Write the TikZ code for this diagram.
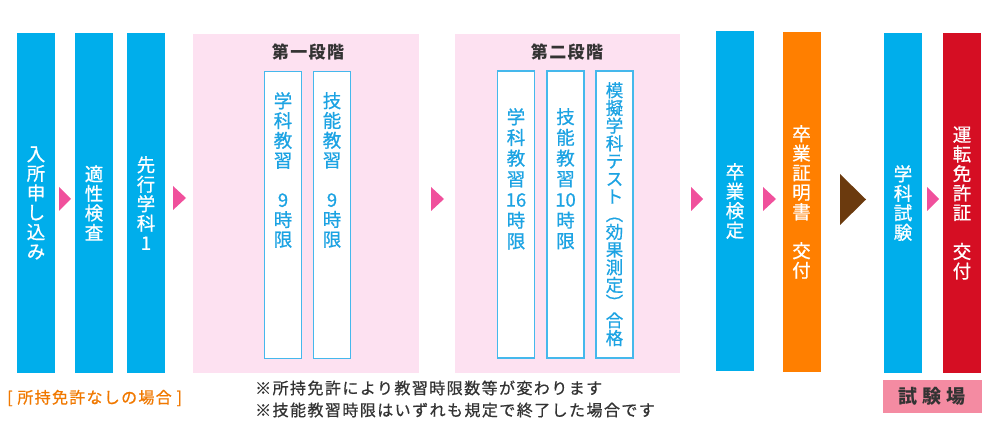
\documentclass[tikz,border=0pt]{standalone}
\usepackage{fontspec}
\usepackage{graphicx}
\newfontfamily\cjk{Noto Sans CJK JP}
\newfontfamily\cjkm[FakeBold=0.7]{Noto Sans CJK JP}
\newcommand\vparen[1]{\rotatebox[origin=c]{-90}{#1}}
\usetikzlibrary{calc}
\definecolor{cyanB}{HTML}{00AEEB}
\definecolor{pinkbg}{HTML}{FDE1F1}
\definecolor{innerline}{HTML}{45B8EC}
\definecolor{innertext}{HTML}{1CA3E3}
\definecolor{arrowpink}{HTML}{F0509C}
\definecolor{brownA}{HTML}{6B3A0E}
\definecolor{orangeB}{HTML}{FF7F00}
\definecolor{redB}{HTML}{D50E23}
\definecolor{labelpink}{HTML}{F48BA2}
\definecolor{notegray}{HTML}{333333}
\definecolor{orangeText}{HTML}{F07800}
\begin{document}
\begin{tikzpicture}[x=1pt,y=-1pt,
  stage/.style={fill=cyanB, draw=none, minimum width=38pt, minimum height=340pt,
    inner sep=0pt, text=white, align=center, font=\cjkm\fontsize{18.5}{19.5}\selectfont},
  panel/.style={fill=pinkbg, draw=none, inner sep=0pt},
  innerbox/.style={fill=white, draw=innerline, line width=1.3pt, minimum width=37pt,
    minimum height=287pt, inner sep=0pt},
  innertxt/.style={text=innertext, align=center, inner sep=0pt, anchor=north,
    font=\cjkm\fontsize{18.5}{19.8}\selectfont},
  title/.style={text=notegray, inner sep=0pt, font=\cjk\bfseries\fontsize{17}{20}\selectfont\addfontfeatures{LetterSpace=8}},
  parrow/.style={fill=arrowpink},
  barrow/.style={fill=brownA}
]
\useasboundingbox (0,0) rectangle (1000,427);

% outer stages
\node[stage] (b1) at (36,203) {入\\所\\申\\し\\込\\み};
\node[stage] (b2) at (94,203) {適\\性\\検\\査};
\node[stage] (b3) at (146,203) {先\\行\\学\\科\\1};

% panel 1
\node[panel, minimum width=226pt, minimum height=339pt] (p1) at (306,203.5) {};
\node[title] (t1) at (308,52) {第一段階};
\node[innerbox] (ib1) at (283,215) {};
\node[innerbox] (ib2) at (332,215) {};
\node[innertxt] (it1) at (283,92) {学\\科\\教\\習\\[19.8pt]9\\時\\限};
\node[innertxt] (it2) at (332,92) {技\\能\\教\\習\\[19.8pt]9\\時\\限};

% panel 2
\node[panel, minimum width=225pt, minimum height=339pt] (p2) at (567.5,203.5) {};
\node[title] (t2) at (567,52) {第二段階};
\node[innerbox] (ib3) at (516,214.5) {};
\node[innerbox] (ib4) at (565.5,214.5) {};
\node[innerbox] (ib5) at (614.5,214.5) {};
\node[innertxt, font=\cjkm\fontsize{18.5}{20.7}\selectfont] (it3) at (516,108) {学\\科\\教\\習\\16\\時\\限};
\node[innertxt, font=\cjkm\fontsize{18.5}{20.7}\selectfont] (it4) at (565.5,108) {技\\能\\教\\習\\10\\時\\限};
\node[innertxt, font=\cjkm\fontsize{17.5}{17.7}\selectfont] (it5) at (614.5,82) {模\\擬\\学\\科\\テ\\ス\\ト\\\vparen{（}\\効\\果\\測\\定\\\vparen{）}\\合\\格};

% later stages
\node[stage, minimum height=340pt] (b4) at (735,201) {卒\\業\\検\\定};
\node[stage, fill=orangeB] (b5) at (801.5,202) {卒\\業\\証\\明\\書\\[19.5pt]交\\付};
\node[stage] (b6) at (903,203) {学\\科\\試\\験};
\node[stage, fill=redB] (b7) at (962,203) {運\\転\\免\\許\\証\\[19.5pt]交\\付};

% pink arrows
\fill[parrow] (59,187) -- (71,199) -- (59,211) -- cycle;
\fill[parrow] (173,186) -- (186,198) -- (173,210) -- cycle;
\fill[parrow] (431,187) -- (444,199) -- (431,211) -- cycle;
\fill[parrow] (691,187) -- (703,199) -- (691,211) -- cycle;
\fill[parrow] (763,187) -- (776,199) -- (763,211) -- cycle;
\fill[parrow] (927,187) -- (939,199) -- (927,211) -- cycle;
% brown arrow
\fill[barrow] (840,174) -- (866,199.5) -- (840,225) -- cycle;

% labels
\node[anchor=west, inner sep=0pt, text=orangeText, font=\cjkm\fontsize{16}{18}\selectfont\addfontfeatures{LetterSpace=8}] (lab1) at (7,398) {[ 所持免許なしの場合 ]};
\node[anchor=west, inner sep=0pt, text=notegray, align=left,
  font=\cjkm\fontsize{16}{22}\selectfont\addfontfeatures{LetterSpace=9}] (notes) at (255,399)
  {※所持免許により教習時限数等が変わります\\※技能教習時限はいずれも規定で終了した場合です};
\node[fill=labelpink, minimum width=99pt, minimum height=33pt, inner sep=0pt,
  text=notegray, font=\cjk\bfseries\fontsize{19}{22}\selectfont\addfontfeatures{LetterSpace=25}] (site) at (932,396.5) {試験場};
\end{tikzpicture}
\end{document}
